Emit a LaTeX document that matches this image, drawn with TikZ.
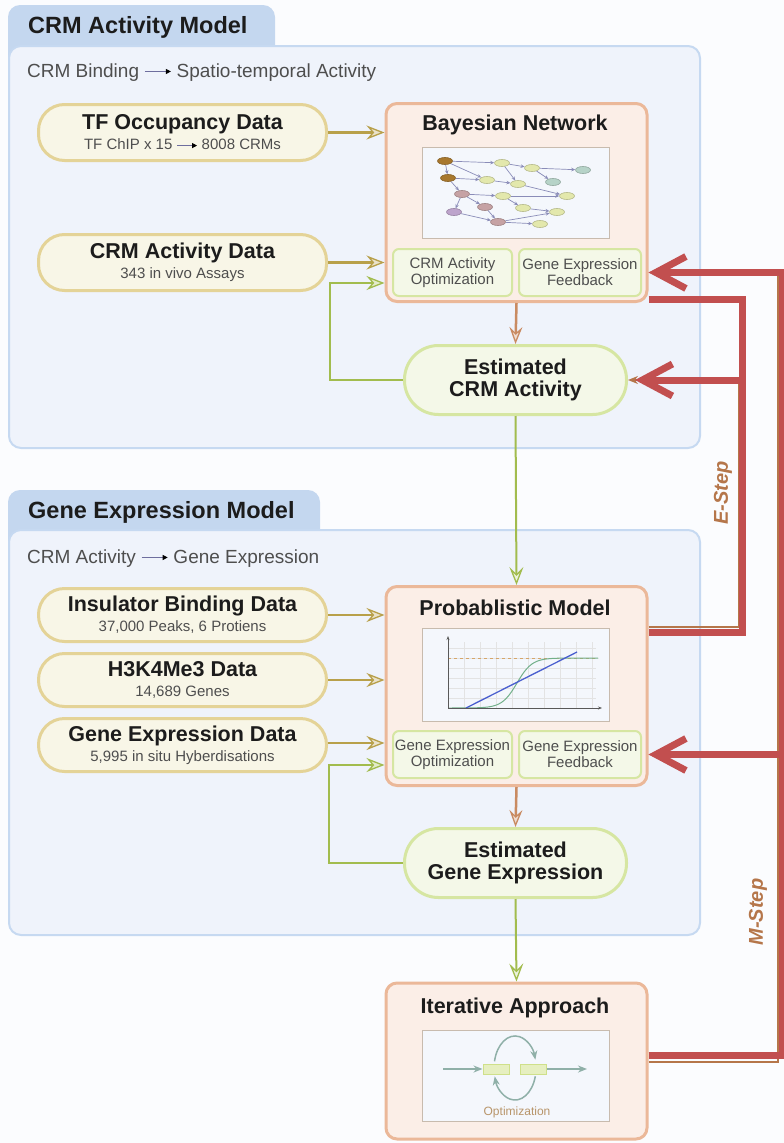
\documentclass[tikz,border=0pt]{standalone}
\usepackage{fontspec}
\setmainfont{Liberation Sans}
\usetikzlibrary{arrows.meta, positioning, calc, shapes.geometric}

\definecolor{pagebg}{HTML}{FBFCFE}
\definecolor{tabblue}{HTML}{C4D7EF}
\definecolor{panelfill}{HTML}{EFF3FB}
\definecolor{panelline}{HTML}{C6D9F1}
\definecolor{datafill}{HTML}{F8F6E7}
\definecolor{dataline}{HTML}{E4D397}
\definecolor{dataarrow}{HTML}{B8A04A}
\definecolor{modelfill}{HTML}{FBEEE7}
\definecolor{modelline}{HTML}{EBB899}
\definecolor{leaffill}{HTML}{F4F8E8}
\definecolor{leafline}{HTML}{D6E6A2}
\definecolor{loopgreen}{HTML}{A2BC4E}
\definecolor{passbrown}{HTML}{C98B62}
\definecolor{stepbrown}{HTML}{B5764A}
\definecolor{stepred}{HTML}{C24F4F}
\definecolor{figfill}{HTML}{F4F7FC}
\definecolor{figline}{HTML}{C8BBAE}
\definecolor{inkblack}{HTML}{1C1C1C}
\definecolor{inkgrey}{HTML}{4E4E4E}
\definecolor{flowpurple}{HTML}{6E6E9E}
\definecolor{bnline}{HTML}{8A8CB8}
\definecolor{bnbrown}{HTML}{A8782E}
\definecolor{bnyellow}{HTML}{E3E8AC}
\definecolor{bnteal}{HTML}{B6D3C8}
\definecolor{bnmauve}{HTML}{C6A2A4}
\definecolor{bnpurple}{HTML}{BDA4CC}
\definecolor{optgrey}{HTML}{8FB0A8}
\definecolor{optfill}{HTML}{E6EFC0}
\definecolor{optline}{HTML}{CFE08A}
\definecolor{opttan}{HTML}{B8956A}
\definecolor{fitblue}{HTML}{4A5FCF}
\definecolor{fitgreen}{HTML}{72B08A}
\definecolor{leveltan}{HTML}{D6A66A}

% small arrow used inside running text
\newcommand{\flowarrow}[1]{\tikz[baseline=-0.55ex]\draw[line width=1pt, draw=flowpurple, -{Triangle[length=5pt,width=5pt,color=black]}] (0pt,0pt) -- (#1,0pt);}
\newcommand{\datatitle}{\bfseries\fontsize{21.5}{20}\selectfont\color{inkblack}}

\tikzset{
  panel/.style={fill=panelfill, draw=panelline, line width=2pt, rounded corners=12pt},
  paneltitle/.style={font=\bfseries\fontsize{23.5}{26}\selectfont, text=inkblack, inner sep=0pt},
  panelsub/.style={font=\fontsize{19}{22}\selectfont, text=inkgrey, inner sep=0pt},
  datanode/.style={draw=dataline, fill=datafill, line width=3pt, rounded corners=26pt,
    minimum width=288pt, minimum height=53pt, align=center, inner sep=0pt,
    font=\fontsize{15}{20}\selectfont, text=inkgrey},
  modelbox/.style={draw=modelline, fill=modelfill, line width=3pt, rounded corners=11pt,
    minimum width=261pt, inner sep=0pt},
  boxtitle/.style={font=\bfseries\fontsize{21.5}{24}\selectfont, text=inkblack, inner sep=0pt},
  figframe/.style={draw=figline, fill=figfill, line width=1.5pt, minimum width=187pt,
    minimum height=91pt, inner sep=0pt},
  leafbox/.style={draw=leafline, fill=leaffill, line width=2pt, rounded corners=6pt,
    minimum height=47pt, inner sep=0pt, align=center, font=\fontsize{15}{16}\selectfont, text=inkgrey},
  estnode/.style={draw=leafline, fill=leaffill, line width=3pt, rounded corners=34pt,
    minimum width=222pt, minimum height=69pt, inner sep=0pt, align=center,
    font=\bfseries\fontsize{21.5}{22.5}\selectfont, text=inkblack},
  feedarrow/.style={draw=dataarrow, line width=2.5pt,
    -{Stealth[length=18pt, width=14pt, inset=6pt, fill=dataarrow!30, line width=1.3pt]}},
  looparrow/.style={draw=loopgreen, line width=2.5pt,
    -{Stealth[length=18pt, width=14pt, inset=6pt, fill=loopgreen!30, line width=1.3pt]}},
  passarrow/.style={draw=passbrown, line width=2.5pt,
    -{Stealth[length=17pt, width=13pt, inset=6pt, fill=passbrown!30, line width=1.3pt]}},
  downarrow/.style={draw=loopgreen, line width=2pt,
    -{Stealth[length=18pt, width=14pt, inset=7pt, fill=loopgreen!20, line width=1.3pt]}},
  traceline/.style={draw=stepbrown, line width=1.5pt},
  tracearrow/.style={traceline, -{Stealth[length=10pt, width=8pt]}},
  stepline/.style={draw=stepred, line width=7pt},
  stepbarb/.style={-{Straight Barb[length=30pt, width=32pt, sharp]}},
  steplabel/.style={font=\bfseries\itshape\fontsize{20}{22}\selectfont, text=stepbrown,
    rotate=90, inner sep=0pt},
  bnode/.style={ellipse, minimum width=15pt, minimum height=7pt, inner sep=0pt, line width=0.6pt},
  bnedge/.style={draw=bnline, line width=0.7pt, -{Stealth[length=4pt, width=3.5pt]}},
  chartgrid/.style={draw=gray!22, line width=0.5pt},
  chartaxis/.style={draw=gray!70!black, line width=0.8pt, -{Stealth[length=4pt, width=3pt]}},
  optbox/.style={draw=optline, fill=optfill, line width=1pt, minimum width=26pt,
    minimum height=10pt, inner sep=0pt},
  optflow/.style={draw=optgrey, line width=1.5pt, -{Stealth[length=9pt, width=7pt, fill=optgrey!50]}},
}

\begin{document}
\begin{tikzpicture}[x=1pt, y=-1pt]
  \useasboundingbox (0,0) rectangle (784,1143);
  \fill[pagebg] (0,0) rectangle (784,1143);

  % CRM activity model panel
  \fill[tabblue, rounded corners=12pt] (8,5) rectangle (275,80);
  \draw[panel] (9,46) rectangle (700,448);
  \node[paneltitle, anchor=base west] (crmtitle) at (28,33) {CRM Activity Model};
  \node[panelsub, anchor=base west] (crmsub) at (27,77) {CRM Binding \flowarrow{26pt} Spatio-temporal Activity};

  % gene expression model panel
  \fill[tabblue, rounded corners=12pt] (8,490) rectangle (320,560);
  \draw[panel] (9,530) rectangle (700,935);
  \node[paneltitle, anchor=base west] (gentitle) at (28,518) {Gene Expression Model};
  \node[panelsub, anchor=base west] (gensub) at (27,563) {CRM Activity \flowarrow{26pt} Gene Expression};

  % input data
  \node[datanode, minimum height=56pt] (tfocc) at (182.5,132.5)
    {{\datatitle TF Occupancy Data}\\TF ChIP x 15 \flowarrow{20pt} 8008 CRMs};
  \node[datanode, minimum height=56pt] (crmdata) at (182.5,262.5)
    {{\datatitle CRM Activity Data}\\343 in vivo Assays};
  \node[datanode] (insul) at (182.5,615)
    {{\datatitle Insulator Binding Data}\\37,000 Peaks, 6 Protiens};
  \node[datanode] (h3k) at (182.5,680)
    {{\datatitle H3K4Me3 Data}\\14,689 Genes};
  \node[datanode] (gexp) at (182.5,745)
    {{\datatitle Gene Expression Data}\\5,995 in situ Hyberdisations};

  % bayesian network
  \node[modelbox, minimum height=198pt] (bayes) at (516.5,202.5) {};
  \node[boxtitle] (bayestitle) at (515,125) {Bayesian Network};
  \node[figframe] (bayesfig) at (516,193) {};
  \node[leafbox, minimum width=119pt] (cao) at (452.5,272.5) {CRM Activity\\Optimization};
  \node[leafbox, minimum width=122pt] (gef1) at (580,272.5) {Gene Expression\\Feedback};
  \foreach \n/\x/\y/\c in {g1/445/161/bnbrown, g2/448/178/bnbrown, g3/502/163/bnyellow,
      g4/532/168/bnyellow, g5/583/170/bnteal, g6/487/180/bnyellow, g7/518/184/bnyellow,
      g8/553/182/bnteal, g9/462/194/bnmauve, g10/503/196/bnyellow, g11/567/196/bnyellow,
      g12/454/212/bnpurple, g13/485/207/bnmauve, g14/523/208/bnyellow, g15/557/212/bnyellow,
      g16/498/222/bnmauve, g17/540/224/bnyellow}
    \node[bnode, fill=\c, draw=\c!80!black] (\n) at (\x,\y) {};
  \foreach \a/\b in {g1/g3, g1/g2, g1/g6, g3/g4, g3/g7, g4/g5, g4/g8, g2/g6, g6/g7,
      g2/g9, g9/g10, g10/g11, g7/g11, g9/g12, g9/g13, g10/g14, g13/g16, g12/g16,
      g14/g15, g16/g15, g16/g17}
    \draw[bnedge] (\a) -- (\b);

  \node[estnode] (eca) at (515.5,380) {Estimated\\CRM Activity};

  % probabilistic model
  \node[modelbox, minimum height=199pt] (prob) at (516.5,686) {};
  \node[boxtitle] (probtitle) at (515,608) {Probablistic Model};
  \node[figframe, minimum height=93pt] (probfig) at (516,675) {};
  \node[leafbox, minimum width=119pt] (geo) at (452.5,754.5) {Gene Expression\\Optimization};
  \node[leafbox, minimum width=122pt] (gef2) at (580,754.5) {Gene Expression\\Feedback};
  \foreach \gx in {464,480,...,592}
    \draw[chartgrid] (\gx,642) -- (\gx,708);
  \foreach \gy in {648,658,...,698}
    \draw[chartgrid] (448,\gy) -- (596,\gy);
  \draw[leveltan, line width=1pt, dashed] (448,658) -- (598,658);
  \draw[fitgreen, line width=1pt] plot[domain=448:598, samples=60] (\x, {683-25*tanh((\x-517)/15)});
  \draw[fitblue, line width=1.3pt] (466,708) -- (577,652);
  \draw[chartaxis] (448,708) -- (448,636);
  \draw[chartaxis] (448,708) -- (602,708);

  \node[estnode] (ege) at (515.5,863) {Estimated\\Gene Expression};

  % iterative approach
  \node[modelbox, minimum height=156pt] (iter) at (516.5,1061) {};
  \node[boxtitle] (itertitle) at (515,1008) {Iterative Approach};
  \node[figframe] (iterfig) at (516,1076) {};
  \node[optbox] (optin) at (496,1069) {};
  \node[optbox] (optout) at (533,1069) {};
  \coordinate (iterin) at (443,1069);
  \coordinate (iterout) at (587,1069);
  \draw[optflow] (iterin) -- (optin);
  \draw[optflow] (optout) -- (iterout);
  \draw[optflow] (494.5,1061.3) arc[start angle=192, end angle=345, x radius=21, y radius=32];
  \draw[optflow] (535.3,1076.3) arc[start angle=15, end angle=165, x radius=21, y radius=32];
  \node[text=opttan, font=\fontsize{12}{14}\selectfont] (optlabel) at (517,1112) {Optimization};

  % data feeding the models
  \draw[feedarrow] (tfocc.east) -- (tfocc.east -| bayes.west);
  \draw[feedarrow] (crmdata.east) -- (crmdata.east -| bayes.west);
  \draw[feedarrow] (insul.east) -- (insul.east -| prob.west);
  \draw[feedarrow] (h3k.east) -- (h3k.east -| prob.west);
  \draw[feedarrow] ([yshift=2pt]gexp.east) -- ([yshift=2pt]gexp.east -| prob.west);

  % estimates fed back into the models
  \coordinate (crmloop) at (330,283);
  \coordinate (geneloop) at (329,765);
  \draw[looparrow] (eca.west) -| (crmloop) -- (crmloop -| bayes.west);
  \draw[looparrow] (ege.west) -| (geneloop) -- (geneloop -| prob.west);

  \draw[passarrow] (bayes.south) -- (eca.north);
  \draw[passarrow] (prob.south) -- (ege.north);
  \draw[downarrow] (eca.south) -- (prob.north);
  \draw[downarrow] (ege.south) -- (iter.north);

  % E-step and M-step
  \coordinate (eTop) at (742,299);
  \coordinate (eBot) at (742,632);
  \coordinate (mTop) at (782,270);
  \coordinate (mBot) at (782,1055);

  \draw[traceline] ([yshift=5pt]prob.east |- eBot) -| ([xshift=-3pt]eTop |- eca.east);
  \draw[tracearrow] ([xshift=-3pt]eTop |- eca.east) -- (eca.east);
  \draw[traceline] ([yshift=-7pt]iter.east |- mBot) -| ([xshift=-4pt]mTop |- gef1.east);
  \draw[tracearrow] ([xshift=-4pt]mTop |- gef1.east) -- (bayes.east |- gef1.east);
  \draw[tracearrow] ([xshift=-4pt]mTop |- gef2.east) -- (prob.east |- gef2.east);

  \draw[stepline] (bayes.east |- eTop) -- (eTop) -- (eBot) -- (prob.east |- eBot);
  \draw[stepline, stepbarb] (eTop |- eca.east) -- ($(eca.east)+(7,0)$);
  \draw[stepline, stepbarb] (iter.east |- mBot) -- (mBot) -- (mTop |- gef1.east) -- (bayes.east |- gef1.east);
  \draw[stepline, stepbarb] (mTop |- gef2.east) -- (prob.east |- gef2.east);

  \node[steplabel] (elabel) at (723,493) {E-Step};
  \node[steplabel] (mlabel) at (758,912) {M-Step};
\end{tikzpicture}
\end{document}
